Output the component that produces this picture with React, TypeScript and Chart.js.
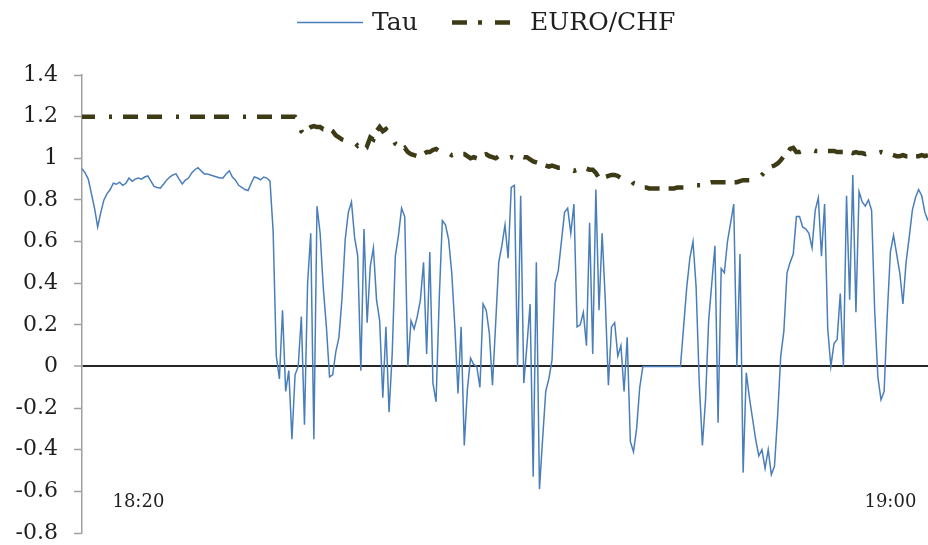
import React, { useEffect, useRef } from 'react';
import { Chart, registerables } from 'chart.js';

Chart.register(...registerables);

// ---- data -------------------------------------------------------------
const START_SECONDS = 18 * 3600 + 17 * 60; // 18:17:00
const STEP_SECONDS = 10;
const X_TICK_LABELS = ['18:20', '19:00'];
const SERIES_NAMES = ['Tau', 'EURO/CHF'];

const TAU = [
  0.95, 0.93, 0.90, 0.83, 0.76, 0.67, 0.74, 0.80, 0.83, 0.85,
  0.88, 0.875, 0.885, 0.87, 0.88, 0.905, 0.89, 0.90, 0.905, 0.90,
  0.91, 0.915, 0.89, 0.865, 0.86, 0.856, 0.875, 0.895, 0.91, 0.92,
  0.925, 0.90, 0.877, 0.895, 0.905, 0.93, 0.945, 0.955, 0.94, 0.925,
  0.925, 0.92, 0.915, 0.91, 0.905, 0.905, 0.925, 0.94, 0.91, 0.895,
  0.87, 0.86, 0.85, 0.845, 0.88, 0.91, 0.905, 0.896, 0.91, 0.905,
  0.89, 0.65, 0.05, -0.06, 0.27, -0.12, -0.02, -0.35, -0.04, 0.0,
  0.24, -0.28, 0.40, 0.64, -0.35, 0.77, 0.64, 0.38, 0.19, -0.05,
  -0.04, 0.07, 0.14, 0.33, 0.61, 0.74, 0.79, 0.62, 0.53, -0.02,
  0.66, 0.21, 0.48, 0.57, 0.32, 0.22, -0.15, 0.19, -0.22, 0.06,
  0.53, 0.63, 0.76, 0.72, 0.0, 0.22, 0.18, 0.24, 0.32, 0.50,
  0.06, 0.55, -0.08, -0.17, 0.32, 0.70, 0.68, 0.61, 0.45, 0.19,
  -0.13, 0.19, -0.38, -0.11, 0.04, 0.01, 0.0, -0.10, 0.30, 0.27,
  0.16, -0.09, 0.20, 0.50, 0.58, 0.68, 0.52, 0.86, 0.87, 0.0,
  0.82, -0.08, 0.10, 0.30, -0.53, 0.50, -0.59, -0.35, -0.12, -0.06,
  0.03, 0.40, 0.46, 0.60, 0.74, 0.76, 0.64, 0.78, 0.19, 0.20,
  0.26, 0.10, 0.69, 0.06, 0.85, 0.27, 0.64, 0.32, -0.09, 0.19,
  0.21, 0.05, 0.10, -0.12, 0.14, -0.36, -0.41, -0.30, -0.10, 0.0,
  0.0, 0.0, 0.0, 0.0, 0.0, 0.0, 0.0, 0.0, 0.0, 0.0,
  0.0, 0.0, 0.19, 0.38, 0.52, 0.60, 0.38, -0.08, -0.38, -0.16,
  0.22, 0.40, 0.58, -0.27, 0.47, 0.45, 0.60, 0.69, 0.78, 0.0,
  0.54, -0.51, -0.03, -0.15, -0.25, -0.35, -0.43, -0.40, -0.49, -0.40,
  -0.52, -0.48, -0.24, 0.05, 0.17, 0.45, 0.50, 0.54, 0.72, 0.72,
  0.67, 0.66, 0.64, 0.57, 0.75, 0.81, 0.53, 0.78, 0.18, 0.0,
  0.11, 0.13, 0.35, 0.0, 0.82, 0.32, 0.92, 0.26, 0.84, 0.79,
  0.77, 0.80, 0.75, 0.26, -0.05, -0.16, -0.12, 0.25, 0.55, 0.63,
  0.54, 0.45, 0.30, 0.50, 0.62, 0.75, 0.81, 0.85, 0.82, 0.74,
  0.70,
];

const EURO_CHF = [
  1.2, 1.2, 1.2, 1.2, 1.2, 1.2, 1.2, 1.2, 1.2, 1.2,
  1.2, 1.2, 1.2, 1.2, 1.2, 1.2, 1.2, 1.2, 1.2, 1.2,
  1.2, 1.2, 1.2, 1.2, 1.2, 1.2, 1.2, 1.2, 1.2, 1.2,
  1.2, 1.2, 1.2, 1.2, 1.2, 1.2, 1.2, 1.2, 1.2, 1.2,
  1.2, 1.2, 1.2, 1.2, 1.2, 1.2, 1.2, 1.2, 1.2, 1.2,
  1.2, 1.2, 1.2, 1.2, 1.2, 1.2, 1.2, 1.2, 1.2, 1.2,
  1.2, 1.2, 1.2, 1.2, 1.2, 1.2, 1.2, 1.2, 1.2, 1.18,
  1.13, 1.115, 1.14, 1.15, 1.155, 1.15, 1.15, 1.14, 1.14, 1.14,
  1.13, 1.11, 1.10, 1.09, 1.085, 1.08, 1.07, 1.075, 1.06, 1.07,
  1.08, 1.06, 1.10, 1.09, 1.13, 1.15, 1.13, 1.14, 1.12, 1.10,
  1.07, 1.06, 1.04, 1.05, 1.03, 1.02, 1.015, 1.01, 1.015, 1.02,
  1.03, 1.03, 1.04, 1.045, 1.035, 1.02, 1.02, 1.025, 1.015, 1.02,
  1.025, 1.02, 1.02, 1.01, 1.0, 1.005, 1.0, 1.01, 1.015, 1.02,
  1.01, 1.005, 1.0, 1.01, 1.0, 0.99, 1.0, 1.005, 1.0, 1.005,
  1.01, 1.005, 1.005, 0.995, 0.985, 0.98, 0.975, 0.97, 0.965, 0.96,
  0.965, 0.96, 0.955, 0.955, 0.955, 0.95, 0.945, 0.94, 0.945, 0.95,
  0.955, 0.95, 0.945, 0.945, 0.93, 0.905, 0.91, 0.91, 0.915, 0.92,
  0.92, 0.915, 0.905, 0.905, 0.90, 0.90, 0.88, 0.875, 0.87, 0.86,
  0.86, 0.855, 0.855, 0.855, 0.855, 0.855, 0.855, 0.855, 0.855, 0.855,
  0.86, 0.86, 0.86, 0.86, 0.865, 0.865, 0.87, 0.87, 0.87, 0.875,
  0.88, 0.885, 0.885, 0.885, 0.885, 0.885, 0.885, 0.885, 0.885, 0.885,
  0.89, 0.895, 0.895, 0.895, 0.895, 0.895, 0.905, 0.92, 0.935, 0.955,
  0.96, 0.965, 0.975, 0.99, 1.01, 1.02, 1.045, 1.05, 1.03, 1.03,
  1.035, 1.035, 1.035, 1.04, 1.035, 1.035, 1.03, 1.03, 1.035, 1.035,
  1.035, 1.03, 1.03, 1.03, 1.03, 1.03, 1.025, 1.03, 1.025, 1.025,
  1.02, 1.025, 1.025, 1.03, 1.025, 1.03, 1.025, 1.025, 1.02, 1.015,
  1.01, 1.01, 1.015, 1.01, 1.01, 1.005, 1.01, 1.01, 1.015, 1.01,
  1.015,
];

const Y_MIN = -0.8;
const Y_MAX = 1.4;
const Y_STEP = 0.2;
const X_LABEL_VALUE = -0.655; // vertical position (in y units) of the time labels

// ---- styles -----------------------------------------------------------
const TAU_COLOR = '#4a7ebb';
const EURO_COLOR = '#3d3b16';
const TEXT_COLOR = '#1f1f1f';
const AXIS_COLOR = '#a0a0a0';
const FONT = '"DejaVu Serif", serif';

const pad2 = (n: number) => String(n).padStart(2, '0');
const TIME_LABELS = TAU.map((_, i) => {
  const t = START_SECONDS + i * STEP_SECONDS;
  const h = Math.floor(t / 3600);
  const m = Math.floor((t % 3600) / 60);
  const s = t % 60;
  return s === 0 ? `${h}:${pad2(m)}` : `${h}:${pad2(m)}:${pad2(s)}`;
});

const overlayPlugin = {
  id: 'overlayText',
  afterDraw(chart: any) {
    const ctx = chart.ctx;
    const xs = chart.scales.x;
    const ys = chart.scales.y;
    ctx.save();
    // time labels
    ctx.fillStyle = TEXT_COLOR;
    ctx.font = `18px ${FONT}`;
    ctx.textAlign = 'center';
    ctx.textBaseline = 'middle';
    X_TICK_LABELS.forEach((lab) => {
      const idx = TIME_LABELS.indexOf(lab);
      if (idx >= 0) ctx.fillText(lab, xs.getPixelForValue(idx), ys.getPixelForValue(X_LABEL_VALUE));
    });

    // legend
    const ly = 22.5;
    const ds = chart.data.datasets;
    ctx.setLineDash([]);
    ctx.strokeStyle = ds[0].borderColor;
    ctx.lineWidth = 1.5;
    ctx.beginPath();
    ctx.moveTo(297, ly);
    ctx.lineTo(363, ly);
    ctx.stroke();

    ctx.strokeStyle = ds[1].borderColor;
    ctx.lineWidth = 4.5;
    ctx.setLineDash([15, 11, 4, 13, 15]);
    ctx.beginPath();
    ctx.moveTo(452, ly);
    ctx.lineTo(510, ly);
    ctx.stroke();
    ctx.setLineDash([]);

    ctx.font = `25px ${FONT}`;
    ctx.textAlign = 'left';
    ctx.fillStyle = TEXT_COLOR;
    ctx.fillText(ds[0].label, 372, ly + 1);
    ctx.fillText(ds[1].label, 530, ly + 1);
    ctx.restore();
  },
};

export default function App() {
  const ref = useRef<HTMLCanvasElement | null>(null);

  useEffect(() => {
    if (!ref.current) return;
    const chart = new Chart(ref.current, {
      type: 'line',
      data: {
        labels: TIME_LABELS,
        datasets: [
          {
            label: SERIES_NAMES[0],
            data: TAU,
            borderColor: TAU_COLOR,
            backgroundColor: TAU_COLOR,
            borderWidth: 1.5,
            pointRadius: 0,
            tension: 0,
          },
          {
            label: SERIES_NAMES[1],
            data: EURO_CHF,
            borderColor: EURO_COLOR,
            backgroundColor: EURO_COLOR,
            borderWidth: 4.5,
            borderDash: [15, 9, 15, 14, 3, 11],
            borderDashOffset: 26,
            borderCapStyle: 'butt',
            pointRadius: 0,
            tension: 0,
          },
        ],
      },
      options: {
        responsive: true,
        maintainAspectRatio: false,
        animation: false,
        devicePixelRatio: 1,
        layout: { padding: { top: 75, bottom: 12, left: 0, right: 0 } },
        plugins: {
          legend: { display: false },
          tooltip: { enabled: false },
        },
        scales: {
          x: {
            type: 'category',
            display: false,
            ticks: { display: false },
            grid: { display: false },
            border: { display: false },
            afterFit: (scale: any) => {
              scale.height = 0;
            },
          },
          y: {
            min: Y_MIN,
            max: Y_MAX,
            ticks: {
              stepSize: Y_STEP,
              color: TEXT_COLOR,
              font: { family: FONT, size: 22 },
              padding: 16,
              callback: (v: any) => String(Number(Number(v).toFixed(1))),
            },
            grid: {
              drawOnChartArea: true,
              color: (c: any) => (c.tick && Math.abs(c.tick.value) < 1e-9 ? '#262626' : 'rgba(0,0,0,0)'),
              lineWidth: (c: any) => (c.tick && Math.abs(c.tick.value) < 1e-9 ? 2 : 1),
              tickColor: AXIS_COLOR,
              tickLength: 8,
              tickWidth: 1.5,
            },
            border: { display: true, color: AXIS_COLOR, width: 1.5 },
            afterFit: (scale: any) => {
              scale.width = 82;
              scale.paddingTop = 12;
              scale.paddingBottom = 12;
            },
          },
        },
      },
      plugins: [overlayPlugin],
    } as any);
    return () => chart.destroy();
  }, []);

  return (
    <div style={{ position: 'absolute', left: 0, top: 0, width: 928, height: 545, background: '#fff' }}>
      <canvas ref={ref} style={{ display: 'block' }} />
    </div>
  );
}
